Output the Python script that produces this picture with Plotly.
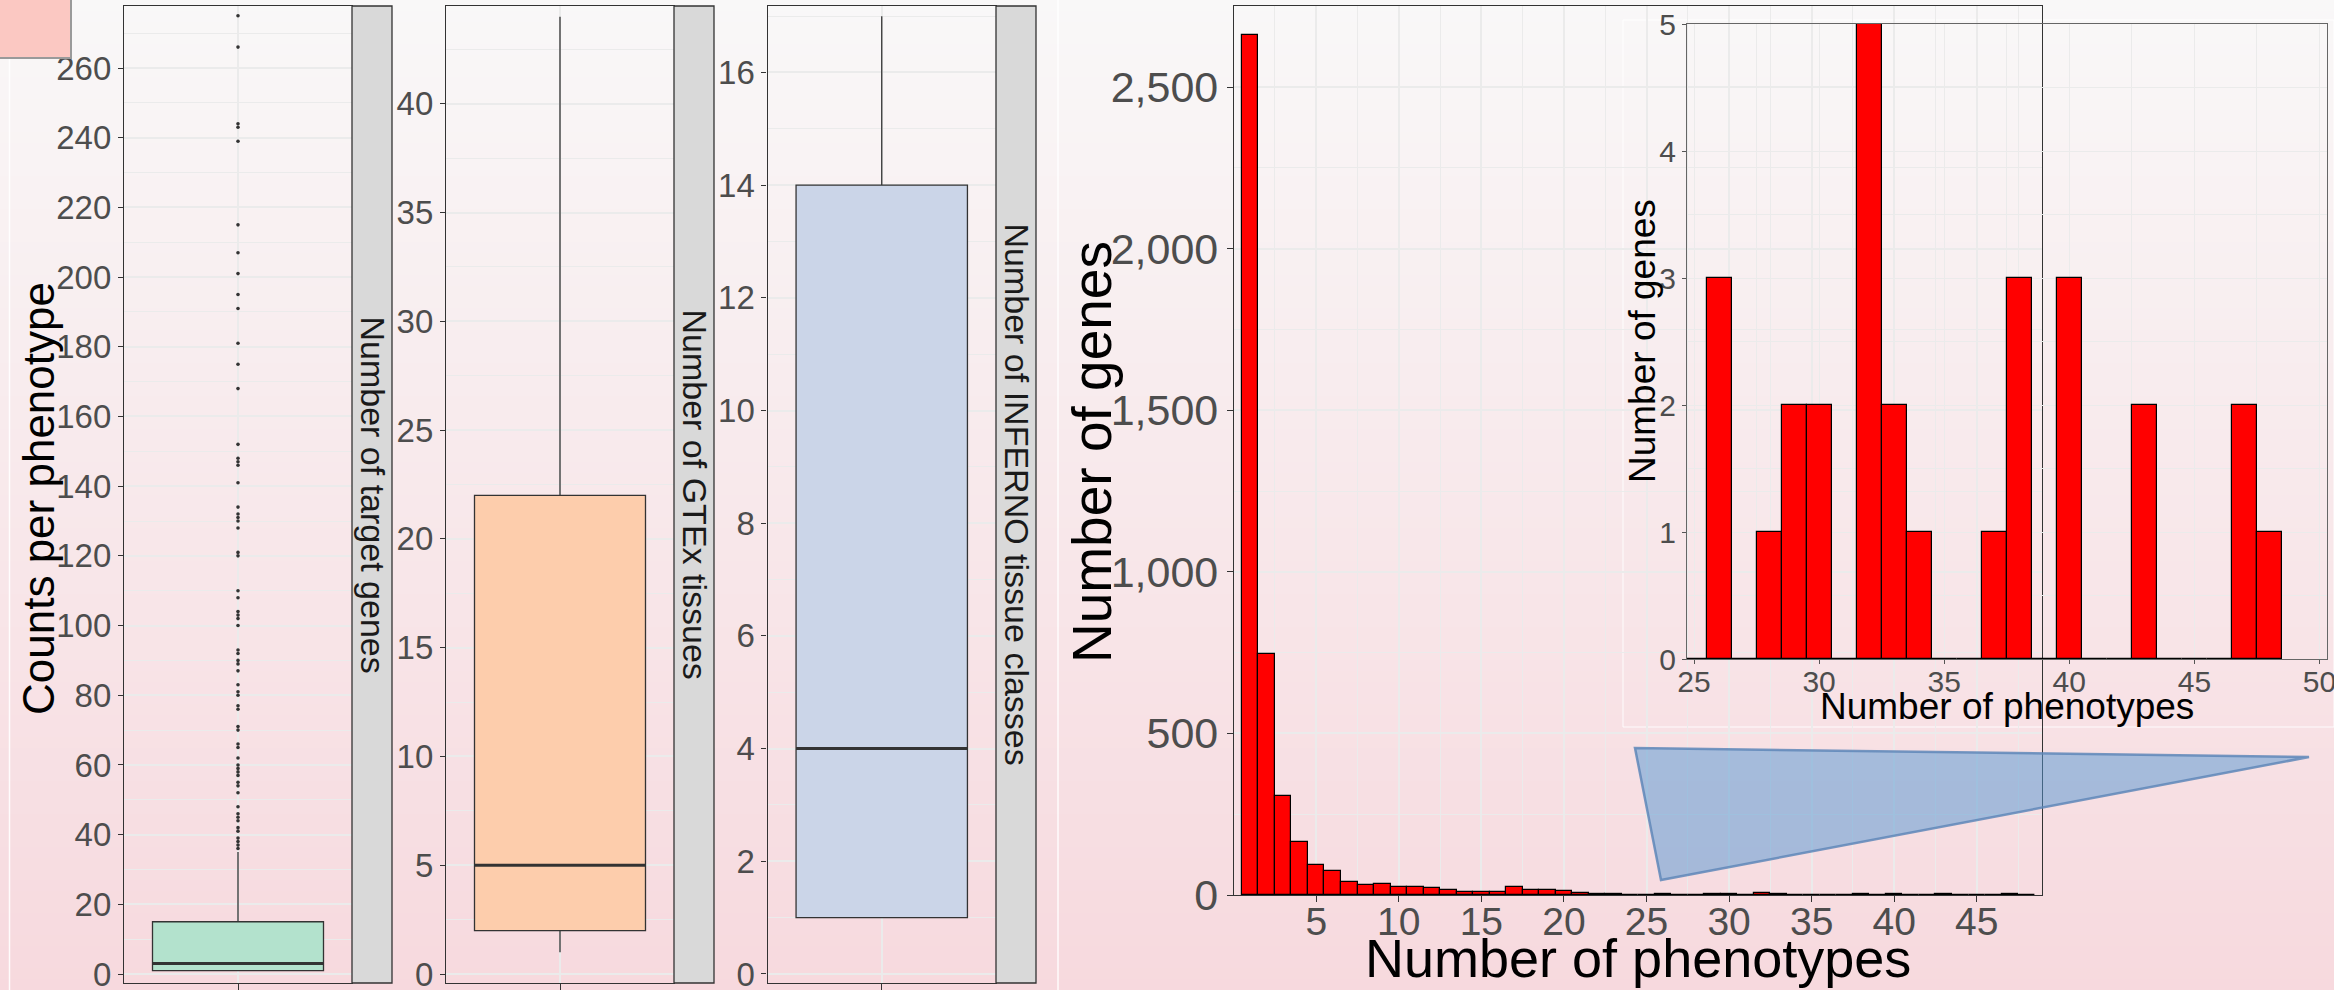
import plotly.graph_objects as go

W, H = 2334, 990

# ---------------- data ----------------
box_labels = ["Number of target genes", "Number of GTEx tissues", "Number of INFERNO tissue classes"]
box_q1 = [1, 2, 1]
box_median = [3, 5, 4]
box_q3 = [15, 22, 14]
box_lower = [1, 1, 1]
box_upper = [35, 44, 17]
target_outliers = [275, 266, 244, 243, 239, 215, 207, 201, 195, 191, 181, 175, 168, 152, 148, 147, 146,
                   141, 134, 132, 131, 130, 128, 121, 120, 110, 108, 104, 103, 102, 100, 93, 92, 90, 89,
                   87, 83, 81, 80, 77, 76, 71, 70, 66, 65, 62, 60, 59, 58, 57, 55, 54, 52, 48, 46, 45,
                   44, 42, 41, 39, 38, 37, 36]

hist_phenotypes = [1, 2, 3, 4, 5, 6, 7, 8, 9, 10, 11, 12, 13, 14, 15, 16, 17, 18, 19, 20, 21, 22, 23, 24,
                   25, 26, 27, 28, 29, 30, 31, 32, 33, 34, 35, 36, 37, 38, 39, 40, 41, 42, 43, 44, 45, 46,
                   47, 48]
hist_genes = [2660, 745, 305, 165, 93, 74, 39, 31, 33, 25, 25, 21, 15, 10, 8, 8, 25, 16, 14, 11, 5, 3, 4, 1,
              0, 3, 0, 1, 2, 2, 0, 5, 2, 1, 0, 0, 1, 3, 0, 3, 0, 0, 2, 0, 0, 0, 2, 1]
inset_min = 25

box_yticks = [20, 5, 2]

# ---------------- styles ----------------
box_colors = ["#B3E2CD", "#FDCDAC", "#CBD5E8"]
FONT = "Liberation Sans, Arial, sans-serif"
TICKC = "#4d4d4d"
LINEC = "#333333"
GRID = "#ebebeb"


def px(x):
    return x / W


def py(y):
    return 1 - y / H


panel_x = [(124, 352), (446, 674), (767.5, 996)]
strip_w = 40
panel_y = (6, 983)
box_ranges = [(-2.58, 277.8), (-0.41, 44.49), (-0.16, 17.18)]

fig = go.Figure()
layout_axes = {}
shapes = []
annotations = []

# background gradient
n = 90
top = (249, 248, 248)
bot = (247, 217, 222)
for i in range(n):
    t = (i + 0.5) / n
    c = tuple(round(top[k] + (bot[k] - top[k]) * t) for k in range(3))
    y0 = i * H / n
    y1 = (i + 1) * H / n + 0.6
    shapes.append(dict(type="rect", xref="paper", yref="paper", x0=0, x1=1, y0=py(y1), y1=py(y0),
                       fillcolor="rgb(%d,%d,%d)" % c, line=dict(width=0), layer="below"))

# faint white separator lines
for xl in [9.5, 1058]:
    shapes.append(dict(type="line", xref="paper", yref="paper", x0=px(xl), x1=px(xl), y0=0, y1=1,
                       line=dict(color="rgba(255,255,255,0.9)", width=1.5), layer="below"))
shapes.append(dict(type="rect", xref="paper", yref="paper", x0=px(1623), x1=px(2334), y0=py(727), y1=py(20),
                   line=dict(color="rgba(255,255,255,0.9)", width=1), fillcolor="rgba(0,0,0,0)", layer="below"))

# ---------------- box panels ----------------
for i in range(3):
    ax = "" if i == 0 else str(i + 1)
    xa, ya = "x" + ax, "y" + ax
    fig.add_trace(go.Box(x=[0], q1=[box_q1[i]], median=[box_median[i]], q3=[box_q3[i]],
                         lowerfence=[box_lower[i]], upperfence=[box_upper[i]], width=0.75,
                         orientation="v", fillcolor=box_colors[i], line=dict(color=LINEC, width=1.3),
                         whiskerwidth=0, boxpoints=False, xaxis=xa, yaxis=ya, showlegend=False,
                         hoverinfo="skip"))
    fig.add_trace(go.Scatter(x=[-0.375, 0.375], y=[box_median[i], box_median[i]], mode="lines",
                             line=dict(color=LINEC, width=3), xaxis=xa, yaxis=ya, showlegend=False,
                             hoverinfo="skip"))
    if i == 0:
        fig.add_trace(go.Scatter(x=[0] * len(target_outliers), y=target_outliers, mode="markers",
                                 marker=dict(size=3.6, color=LINEC), xaxis=xa, yaxis=ya,
                                 showlegend=False, hoverinfo="skip"))
    x0, x1 = panel_x[i]
    layout_axes["xaxis" + ax] = dict(domain=[px(x0), px(x1)], range=[-0.5, 0.5], anchor=ya,
                                     automargin=False,
                                     tickmode="array", tickvals=[0], showticklabels=False,
                                     ticks="outside", ticklen=6, tickcolor=LINEC, tickwidth=1.2,
                                     showgrid=True, gridcolor=GRID, gridwidth=1.5, zeroline=False,
                                     showline=True, mirror=True, linecolor=LINEC, linewidth=1.3)
    layout_axes["yaxis" + ax] = dict(domain=[py(panel_y[1]), py(panel_y[0])], range=list(box_ranges[i]),
                                     anchor=xa, automargin=False, ticklabeloverflow="allow",
                                     tick0=0, dtick=box_yticks[i], ticks="outside", ticklen=5,
                                     tickcolor=LINEC, tickwidth=1.2,
                                     tickfont=dict(family=FONT, size=33, color=TICKC),
                                     showgrid=True, gridcolor=GRID, gridwidth=1.5, zeroline=False,
                                     minor=dict(dtick=box_yticks[i] / 2, tick0=0, showgrid=True,
                                                gridcolor=GRID, gridwidth=0.8),
                                     showline=True, mirror=True, linecolor=LINEC, linewidth=1.3)
    # strip
    shapes.append(dict(type="rect", xref="paper", yref="paper", x0=px(x1), x1=px(x1 + strip_w),
                       y0=py(panel_y[1]), y1=py(panel_y[0]), fillcolor="#d9d9d9",
                       line=dict(color=LINEC, width=1.3), layer="above"))
    annotations.append(dict(text=box_labels[i], xref="paper", yref="paper", x=px(x1 + strip_w / 2),
                            y=py((panel_y[0] + panel_y[1]) / 2), textangle=90, showarrow=False,
                            font=dict(family=FONT, size=34, color="#1a1a1a"),
                            xanchor="center", yanchor="middle"))

annotations.append(dict(text="Counts per phenotype", xref="paper", yref="paper", x=px(38), y=py(499),
                        textangle=-90, showarrow=False, font=dict(family=FONT, size=44, color="black"),
                        xanchor="center", yanchor="middle"))

# ---------------- histogram ----------------
fig.add_trace(go.Bar(x=hist_phenotypes, y=hist_genes, width=1, marker=dict(color="#FF0000",
                     line=dict(color="black", width=1.2)), xaxis="x4", yaxis="y4", showlegend=False,
                     hoverinfo="skip"))
layout_axes["xaxis4"] = dict(domain=[px(1234), px(2042)], range=[0.02, 48.95], anchor="y4",
                             automargin=False, ticklabelstandoff=-14, ticklabeloverflow="allow",
                             tickmode="array", tickvals=[5, 10, 15, 20, 25, 30, 35, 40, 45],
                             ticks="outside", ticklen=6, tickcolor=LINEC, tickwidth=1.2,
                             tickfont=dict(family=FONT, size=39, color=TICKC),
                             showgrid=True, gridcolor=GRID, gridwidth=1.5, zeroline=False,
                             minor=dict(tick0=0, dtick=2.5, showgrid=True, gridcolor=GRID, gridwidth=0.8),
                             showline=True, mirror=True, linecolor=LINEC, linewidth=1.3)
layout_axes["yaxis4"] = dict(domain=[py(895), py(6)], range=[0, 2751], anchor="x4",
                             automargin=False, ticklabeloverflow="allow",
                             tick0=0, dtick=500, tickformat=",d", ticks="outside", ticklen=6,
                             tickcolor=LINEC, tickwidth=1.2,
                             tickfont=dict(family=FONT, size=43, color=TICKC),
                             showgrid=True, gridcolor=GRID, gridwidth=1.5, zeroline=False,
                             minor=dict(tick0=0, dtick=250, showgrid=True, gridcolor=GRID, gridwidth=0.8),
                             showline=True, mirror=True, linecolor=LINEC, linewidth=1.3)
annotations.append(dict(text="Number of genes", xref="paper", yref="paper", x=px(1092), y=py(452),
                        textangle=-90, showarrow=False, font=dict(family=FONT, size=55, color="black"),
                        xanchor="center", yanchor="middle"))
annotations.append(dict(text="Number of phenotypes", xref="paper", yref="paper", x=px(1638), y=py(958),
                        showarrow=False, font=dict(family=FONT, size=54, color="black"),
                        xanchor="center", yanchor="middle"))

# ---------------- inset ----------------
inset_x = [p for p in hist_phenotypes if p >= inset_min]
inset_y = [g for p, g in zip(hist_phenotypes, hist_genes) if p >= inset_min]
fig.add_trace(go.Bar(x=inset_x, y=inset_y, width=1, marker=dict(color="#FF0000",
                     line=dict(color="black", width=1.2)), xaxis="x5", yaxis="y5", showlegend=False,
                     hoverinfo="skip"))
layout_axes["xaxis5"] = dict(domain=[px(1687), px(2327)], range=[24.72, 50.3], anchor="y5",
                             automargin=False, ticklabelstandoff=-8, ticklabeloverflow="allow",
                             tick0=0, dtick=5, ticks="outside", ticklen=4, tickcolor="#555555",
                             tickfont=dict(family=FONT, size=30, color=TICKC),
                             showgrid=True, gridcolor=GRID, gridwidth=1.2, zeroline=False,
                             minor=dict(tick0=0, dtick=2.5, showgrid=True, gridcolor=GRID, gridwidth=0.7),
                             showline=True, mirror=True, linecolor="#666666", linewidth=1.2)
layout_axes["yaxis5"] = dict(domain=[py(659), py(24)], range=[0, 5], anchor="x5",
                             automargin=False, ticklabeloverflow="allow",
                             tick0=0, dtick=1, ticks="outside", ticklen=4, tickcolor="#555555",
                             tickfont=dict(family=FONT, size=30, color=TICKC),
                             showgrid=True, gridcolor=GRID, gridwidth=1.2, zeroline=False,
                             minor=dict(tick0=0, dtick=0.5, showgrid=True, gridcolor=GRID, gridwidth=0.7),
                             showline=True, mirror=True, linecolor="#666666", linewidth=1.2)
annotations.append(dict(text="Number of genes", xref="paper", yref="paper", x=px(1642), y=py(341),
                        textangle=-90, showarrow=False, font=dict(family=FONT, size=37, color="black"),
                        xanchor="center", yanchor="middle"))
annotations.append(dict(text="Number of phenotypes", xref="paper", yref="paper", x=px(2007), y=py(706),
                        showarrow=False, font=dict(family=FONT, size=37, color="black"),
                        xanchor="center", yanchor="middle"))

# ---------------- decorations ----------------
tri = [(1635, 748), (1661, 880), (2309, 757)]
path = "M %f,%f L %f,%f L %f,%f Z" % (px(tri[0][0]), py(tri[0][1]), px(tri[1][0]), py(tri[1][1]),
                                       px(tri[2][0]), py(tri[2][1]))
shapes.append(dict(type="path", xref="paper", yref="paper", path=path,
                   fillcolor="rgba(84,149,210,0.5)", line=dict(color="rgba(95,135,185,0.85)", width=2.5),
                   layer="above"))
shapes.append(dict(type="rect", xref="paper", yref="paper", x0=px(-2), x1=px(71), y0=py(58), y1=py(-2),
                   fillcolor="#fbc8c2", line=dict(color="#9a9a9a", width=2), layer="above"))

fig.update_layout(width=W, height=H, margin=dict(l=0, r=0, t=0, b=0, autoexpand=False),
                  paper_bgcolor="#f8ecee", plot_bgcolor="rgba(0,0,0,0)",
                  shapes=shapes, annotations=annotations, showlegend=False,
                  bargap=0, barmode="overlay", font=dict(family=FONT), **layout_axes)

fig.write_html("out.html")
